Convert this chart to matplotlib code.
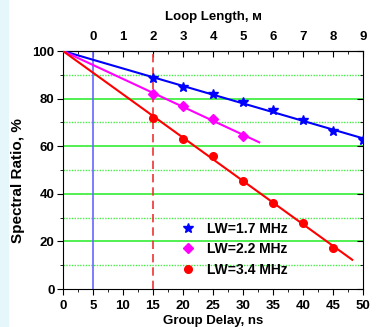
import numpy as np
import matplotlib.pyplot as plt
from matplotlib.ticker import MultipleLocator

# group delay, ns
delay_17 = [15, 20, 25, 30, 35, 40, 45, 50]
ratio_17 = [88.8, 85.0, 81.8, 78.6, 75.2, 71.0, 66.5, 62.6]
delay_22 = [15, 20, 25, 30]
ratio_22 = [81.8, 77.0, 71.3, 64.3]
delay_34 = [15, 20, 25, 30, 35, 40, 45]
ratio_34 = [71.8, 63.0, 55.7, 45.5, 36.3, 27.9, 17.4]
fit_end = [50, 32.7, 48.2]
loop_ticks = [0, 1, 2, 3, 4, 5, 6, 7, 8, 9]


def slope_through_100(x, y):
    # least squares with the line pinned at (0, 100)
    x = np.asarray(x, float)
    y = np.asarray(y, float) - 100
    return (x * y).sum() / (x * x).sum()


plt.rcParams['font.family'] = ['Liberation Sans', 'DejaVu Sans']
plt.rcParams['font.weight'] = 'bold'
plt.rcParams['font.size'] = 9

fig = plt.figure(figsize=(3.77, 3.27), dpi=100)
fig.patches.append(plt.Rectangle((0, 0), 0.022, 1, transform=fig.transFigure,
                                 color='#e6f7fb', zorder=0))
ax = fig.add_axes([0.167, 0.116, 0.796, 0.728])

for yv in [20, 40, 60, 80]:
    ax.axhline(yv, color='#33ee33', lw=1.2, zorder=1)
for yv in [10, 30, 50, 70, 90]:
    ax.axhline(yv, color='#44ee44', lw=1, ls=(0, (1, 1)), zorder=1)

ax.axvline(5, color='#6666ff', lw=1.2, zorder=2)
ax.axvline(15, color='#ee3333', lw=1.2, ls=(0, (5, 3)), zorder=2)

series = [
    (delay_17, ratio_17, fit_end[0], 'blue', '*', 7, 'LW=1.7 MHz'),
    (delay_22, ratio_22, fit_end[1], 'magenta', 'D', 5, 'LW=2.2 MHz'),
    (delay_34, ratio_34, fit_end[2], 'red', 'o', 5.5, 'LW=3.4 MHz'),
]
for x, y, xend, col, mk, ms, lab in series:
    k = slope_through_100(x, y)
    xs = np.array([0, xend])
    ax.plot(xs, 100 + k * xs, color=col, lw=1.5, zorder=3)
    ax.plot(x, y, ls='none', marker=mk, color=col, ms=ms, zorder=4, label=lab)

ax.set_xlim(0, 50)
ax.set_ylim(0, 100)
ax.xaxis.set_major_locator(MultipleLocator(5))
ax.xaxis.set_minor_locator(MultipleLocator(2.5))
ax.yaxis.set_major_locator(MultipleLocator(20))
ax.yaxis.set_minor_locator(MultipleLocator(10))
ax.tick_params(which='both', direction='out', top=False)
ax.tick_params(which='major', length=4, labelsize=9.5)
ax.tick_params(axis='x', pad=4)
ax.tick_params(axis='y', pad=2)
ax.tick_params(which='minor', length=2)
# right side ticks point inwards, left ones outwards
ax.yaxis.set_tick_params(which='both', right=True)
for t in ax.yaxis.get_major_ticks() + ax.yaxis.get_minor_ticks():
    t.tick2line.set_marker(0)
ax.set_xlabel('Group Delay, ns', fontsize=9.5, fontweight='bold', labelpad=2)
ax.set_ylabel('Spectral Ratio, %', fontsize=11, fontweight='bold')
ax.yaxis.set_label_coords(-0.125, 0.455)

top = ax.secondary_xaxis('top', functions=(lambda d: (d - 5) / 5, lambda m: m * 5 + 5))
top.set_xticks(loop_ticks)
top.xaxis.set_minor_locator(MultipleLocator(0.5))
top.tick_params(which='both', direction='in', labelsize=9.5, pad=6)
top.tick_params(which='major', length=4)
top.tick_params(which='minor', length=2)
top.set_xlabel('Loop Length, м', fontsize=9.5, fontweight='bold', labelpad=8)

ax.legend(loc='lower left', bbox_to_anchor=(0.375, 0.035), frameon=False, fontsize=10,
          handletextpad=0.75, labelspacing=0.45, borderpad=0.3, handlelength=1.2,
          borderaxespad=0)

fig.savefig('out.png', dpi=100)
